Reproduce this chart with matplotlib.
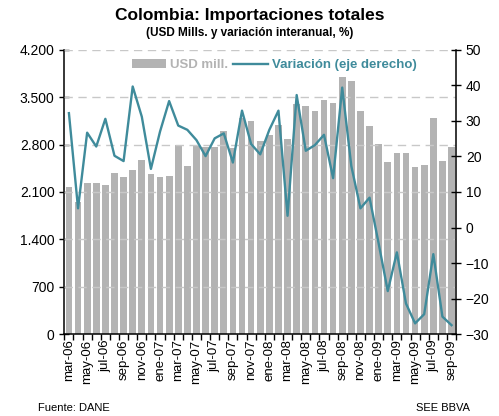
import matplotlib
matplotlib.use("Agg")
import matplotlib.pyplot as plt
from matplotlib.lines import Line2D
from matplotlib.patches import Patch
from matplotlib.ticker import FuncFormatter
import numpy as np

plt.rcParams['font.family'] = ['Liberation Sans', 'DejaVu Sans']

months = ["mar-06", "abr-06", "may-06", "jun-06", "jul-06", "ago-06", "sep-06", "oct-06", "nov-06", "dic-06",
          "ene-07", "feb-07", "mar-07", "abr-07", "may-07", "jun-07", "jul-07", "ago-07", "sep-07", "oct-07",
          "nov-07", "dic-07", "ene-08", "feb-08", "mar-08", "abr-08", "may-08", "jun-08", "jul-08", "ago-08",
          "sep-08", "oct-08", "nov-08", "dic-08", "ene-09", "feb-09", "mar-09", "abr-09", "may-09", "jun-09",
          "jul-09", "ago-09", "sep-09"]

usd_mill = [2175, 1950, 2238, 2238, 2209, 2386, 2322, 2418, 2567, 2372,
            2322, 2337, 2791, 2483, 2786, 2761, 2761, 2998, 2746, 3199,
            3150, 2855, 2943, 3096, 2889, 3402, 3372, 3303, 3466, 3421,
            3806, 3742, 3303, 3081, 2805, 2544, 2672, 2672, 2465, 2495,
            3190, 2563, 2770]

variacion = [32.2, 5.4, 26.7, 22.8, 30.6, 20.2, 18.7, 39.7, 31.2, 16.5,
             27.0, 35.6, 28.7, 27.5, 24.6, 20.1, 25.1, 26.5, 18.3, 32.9,
             23.5, 20.6, 27.5, 32.9, 3.3, 37.3, 21.6, 23.2, 26.1, 13.9,
             39.4, 17.3, 5.4, 8.4, -4.5, -17.9, -7.0, -21.4, -27.0, -24.4,
             -7.5, -25.1, -27.5]

left_ticks = [0, 700, 1400, 2100, 2800, 3500, 4200]
right_ticks = [-30, -20, -10, 0, 10, 20, 30, 40, 50]

bar_color = "#b3b3b3"
line_color = "#3f8b9b"

fig = plt.figure(figsize=(4.99, 4.16), dpi=100)
ax = fig.add_axes([0.129, 0.197, 0.785, 0.683])
x = np.arange(len(months))

ax.bar(x, usd_mill, width=0.74, color=bar_color, zorder=2)
ax.set_xlim(-0.5, len(months) - 0.5)
ax.set_ylim(0, 4200)
ax.set_yticks(left_ticks)
ax.yaxis.set_major_formatter(FuncFormatter(lambda v, p: f"{int(v):,}".replace(",", ".")))
for t in left_ticks[1:]:
    ax.axhline(t, color="#c8c8c8", lw=1.0, ls=(0, (6, 4)), zorder=3)

ax.set_xticks(x[::2])
ax.set_xticklabels(months[::2], rotation=90, fontsize=9.5)
ax.set_xticks(np.arange(-0.5, len(months), 1), minor=True)
ax.tick_params(axis='x', which='major', length=0, pad=4)
ax.tick_params(axis='x', which='minor', length=4, width=1, direction='out')
ax.tick_params(axis='y', labelsize=10, length=7, width=1, direction='inout')

ax.spines['top'].set_visible(False)
ax.spines['right'].set_visible(False)
for s in ['left', 'bottom']:
    ax.spines[s].set_linewidth(1.1)

ax2 = ax.twinx()
ax2.plot(x, variacion, color=line_color, lw=1.7, zorder=5)
ax2.set_ylim(-30, 50)
ax2.set_yticks(right_ticks)
ax2.tick_params(axis='y', labelsize=10, length=7, width=1, direction='inout')
ax2.spines['top'].set_visible(False)
ax2.spines['left'].set_visible(False)
ax2.spines['bottom'].set_visible(False)
ax2.spines['right'].set_linewidth(1.1)

handles = [Patch(facecolor=bar_color, edgecolor='none', label="USD mill."),
           Line2D([0], [0], color=line_color, lw=1.7, label="Variación (eje derecho)")]
leg = ax.legend(handles=handles, loc='upper center', bbox_to_anchor=(0.535, 1.0), ncol=2, frameon=False,
                handlelength=2.6, handletextpad=0.3, columnspacing=0.4, borderaxespad=0.3,
                prop={'weight': 'bold', 'size': 9.5})
for txt, c in zip(leg.get_texts(), ["#b3b3b3", line_color]):
    txt.set_color(c)
leg.set_zorder(10)

fig.text(0.5, 0.962, "Colombia: Importaciones totales", ha='center', va='center', fontsize=12.5, fontweight='bold')
fig.text(0.5, 0.921, "(USD Mills. y variación interanual, %)", ha='center', va='center', fontsize=8.5, fontweight='bold')
fig.text(0.076, 0.019, "Fuente: DANE", ha='left', va='center', fontsize=8)
fig.text(0.942, 0.019, "SEE BBVA", ha='right', va='center', fontsize=8)

fig.savefig("out.png", dpi=100)
